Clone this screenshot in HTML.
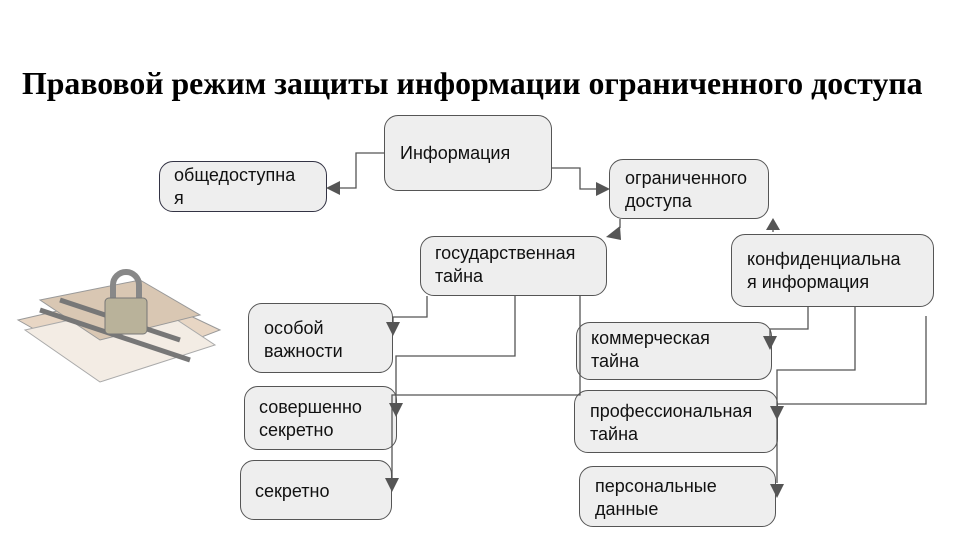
<!DOCTYPE html>
<html><head><meta charset="utf-8"><style>
body{margin:0;width:960px;height:540px;background:#fff;position:relative;overflow:hidden;font-family:"Liberation Sans",sans-serif}
.t{position:absolute;left:22px;top:66px;font-family:"Liberation Serif",serif;font-weight:bold;font-size:31.8px;color:#000;white-space:nowrap}
.b{position:absolute;background:#eeeeee;border:1px solid #555;border-radius:14px;font-size:18px;line-height:23px;color:#111;box-sizing:border-box;padding:8px 14px;white-space:nowrap}
svg{position:absolute;left:0;top:0}
</style></head><body>
<div class="t">Правовой режим защиты информации ограниченного доступа</div>
<svg width="960" height="540">
<g>
<polygon points="18,320 140,292 220,330 110,372" fill="#e8d6c4" stroke="#999"/>
<polygon points="25,330 150,302 215,345 100,382" fill="#f3ece4" stroke="#aaa"/>
<polygon points="40,300 140,280 200,315 100,340" fill="#d9c7b3" stroke="#999"/>
<path d="M40,310 L190,360 M60,300 L180,340" stroke="#777" stroke-width="5" fill="none"/>
<path d="M113,300 V285 a13,13 0 0 1 26,0 V300" stroke="#888" stroke-width="6" fill="none"/>
<rect x="105" y="298" width="42" height="36" rx="4" fill="#b9b29a" stroke="#777"/>
</g>
</svg>
<div class="b" style="left:159px;top:161px;width:168px;height:51px;padding:2px 14px;border-color:#334">общедоступна<br>я</div>
<div class="b" style="left:384px;top:115px;width:168px;height:76px;padding:26px 15px">Информация</div>
<div class="b" style="left:609px;top:159px;width:160px;height:60px;padding:7px 15px">ограниченного<br>доступа</div>
<div class="b" style="left:420px;top:236px;width:187px;height:60px;padding:5px 14px">государственная<br>тайна</div>
<div class="b" style="left:731px;top:234px;width:203px;height:73px;padding:13px 15px">конфиденциальна<br>я информация</div>
<div class="b" style="left:248px;top:303px;width:145px;height:70px;padding:13px 15px">особой<br>важности</div>
<div class="b" style="left:244px;top:386px;width:153px;height:64px;padding:9px 14px">совершенно<br>секретно</div>
<div class="b" style="left:240px;top:460px;width:152px;height:60px;padding:19px 14px">секретно</div>
<div class="b" style="left:576px;top:322px;width:196px;height:58px;padding:4px 14px">коммерческая<br>тайна</div>
<div class="b" style="left:574px;top:390px;width:204px;height:63px;padding:9px 15px">профессиональная<br>тайна</div>
<div class="b" style="left:579px;top:466px;width:197px;height:61px;padding:8px 15px">персональные<br>данные</div>
<svg width="960" height="540">
<g fill="none" stroke="#555" stroke-width="1.3">
<polyline points="385,153 356,153 356,188 335,188"/>
<polyline points="551,168 580,168 580,189 600,189"/>
<polyline points="620,219 620,228"/>
<polyline points="773,232 773,226"/>
<polyline points="427,296 427,317 393,317 393,325"/>
<polyline points="515,296 515,356 396,356 396,405"/>
<polyline points="580,296 580,395 392,395 392,478"/>
<polyline points="808,307 808,329 770,329 770,336"/>
<polyline points="855,307 855,370 777,370 777,483"/>
<polyline points="926,316 926,404 777,404"/>
</g>
<g fill="#555">
<polygon points="326,188 340,181 340,195"/>
<polygon points="610,189 596,182 596,196"/>
<polygon points="606,237 620,226 621,240"/>
<polygon points="773,218 766,230 780,230"/>
<polygon points="393,336 386,322 400,322"/>
<polygon points="396,417 389,403 403,403"/>
<polygon points="392,492 385,478 399,478"/>
<polygon points="770,350 763,336 777,336"/>
<polygon points="777,420 770,406 784,406"/>
<polygon points="777,498 770,484 784,484"/>
</g>
</svg>
</body></html>
